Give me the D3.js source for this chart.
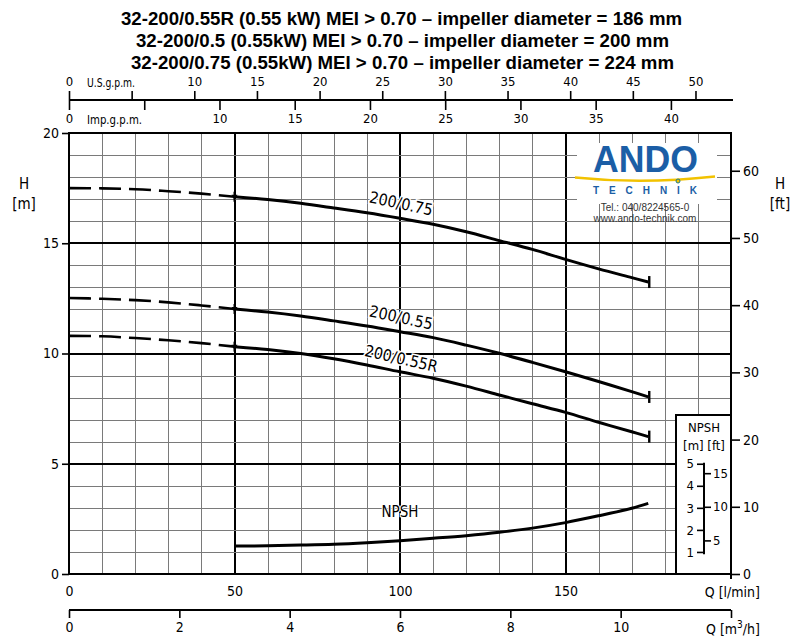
<!DOCTYPE html>
<html>
<head>
<meta charset="utf-8">
<script src="https://cdn.jsdelivr.net/npm/d3@7"></script>
<style>
  html, body { margin: 0; padding: 0; background: #fff; }
  svg { display: block; }
  .lbl { font-family: "DejaVu Sans Condensed", "Liberation Sans Narrow", "DejaVu Sans", sans-serif; font-size: 14px; fill: #000; }
</style>
</head>
<body>
<svg id="chart" width="800" height="640"></svg>
<script>
// ---------------- DATA ----------------
const titles = [
  "32-200/0.55R (0.55 kW) MEI > 0.70 \u2013 impeller diameter = 186 mm",
  "32-200/0.5 (0.55kW) MEI > 0.70 \u2013 impeller diameter = 200 mm",
  "32-200/0.75 (0.55kW) MEI > 0.70 \u2013 impeller diameter = 224 mm"
];
const curveNames = ["200/0.75", "200/0.55", "200/0.55R"];

// flow (l/min) for dashed (extrapolated) and solid parts
const qDash  = [0, 10, 20, 30, 40, 50];
const qSolid = [50, 60, 70, 80, 90, 100, 110, 120, 130, 140, 150, 160, 170, 175];

// head H [m]
const h075Dash  = [17.50, 17.49, 17.45, 17.36, 17.25, 17.11];
const h075Solid = [17.11, 16.98, 16.81, 16.60, 16.38, 16.13, 15.86, 15.52, 15.12, 14.72, 14.27, 13.84, 13.44, 13.24];
const h055Dash  = [12.52, 12.48, 12.42, 12.32, 12.18, 12.02];
const h055Solid = [12.02, 11.88, 11.70, 11.48, 11.25, 10.99, 10.72, 10.38, 10.01, 9.60, 9.17, 8.73, 8.27, 8.03];
const h055RDash  = [10.80, 10.78, 10.70, 10.60, 10.47, 10.31];
const h055RSolid = [10.31, 10.18, 10.00, 9.76, 9.48, 9.17, 8.88, 8.52, 8.12, 7.72, 7.33, 6.88, 6.45, 6.23];

// NPSH [m]
const npsh = [1.27, 1.28, 1.31, 1.35, 1.42, 1.51, 1.62, 1.74, 1.89, 2.08, 2.33, 2.64, 2.98, 3.20];

// tick values
const hTicks    = [0, 5, 10, 15, 20];
const ftTicks   = [0, 10, 20, 30, 40, 50, 60];
const lminTicks = [0, 50, 100, 150];
const m3hTicks  = [0, 2, 4, 6, 8, 10, 12];
const usTicks   = [0, 5, 10, 15, 20, 25, 30, 35, 40, 45, 50];
const impTicks  = [0, 5, 10, 15, 20, 25, 30, 35, 40];
const npshMTicks  = [1, 2, 3, 4, 5];
const npshFtTicks = [5, 10, 15];

// ---------------- LAYOUT ----------------
const svg = d3.select("#chart");
const L = 69, R = 731, T = 133, B = 574;
const QMAX = 200, HMAX = 20;

const x    = d3.scaleLinear().domain([0, QMAX]).range([L, R]);
const y    = d3.scaleLinear().domain([0, HMAX]).range([B, T]);
const yFt  = d3.scaleLinear().domain([0, HMAX / 0.3048]).range([B, T]);
const xM3h = d3.scaleLinear().domain([0, QMAX * 60 / 1000]).range([L, R]);
const xUS  = d3.scaleLinear().domain([0, QMAX / 3.78541]).range([L, R]);
const xImp = d3.scaleLinear().domain([0, QMAX / 4.54609]).range([L, R]);

svg.append("rect").attr("width", 800).attr("height", 640).attr("fill", "#fff");

// ---------------- TITLES ----------------
const titleTargets = [[121, 682], [136, 669], [131, 674]];
const titleBase = [25, 47, 69];
titles.forEach((t, i) => {
  svg.append("text")
    .attr("x", (titleTargets[i][0] + titleTargets[i][1]) / 2)
    .attr("y", titleBase[i])
    .attr("text-anchor", "middle")
    .style("font-family", "'Liberation Sans Narrow','Arial Narrow','Liberation Sans',Arial,sans-serif")
    .style("font-weight", "bold")
    .style("font-size", "19px")
    .attr("textLength", titleTargets[i][1] - titleTargets[i][0])
    .attr("lengthAdjust", "spacingAndGlyphs")
    .text(t);
});

// ---------------- GRID ----------------
const g = svg.append("g").attr("shape-rendering", "crispEdges");
d3.range(10, QMAX, 10).forEach(q => {
  const major = q % 50 === 0;
  const xv = Math.round(x(q)) + (major ? 0 : 0.5);
  g.append("line").attr("x1", xv).attr("x2", xv).attr("y1", T).attr("y2", B)
    .attr("stroke", major ? "#000" : "#7a7a7a").attr("stroke-width", major ? 2 : 1);
});
d3.range(1, HMAX, 1).forEach(h => {
  const major = h % 5 === 0;
  const yv = Math.round(y(h)) + (major ? 0 : 0.5);
  g.append("line").attr("x1", L).attr("x2", R).attr("y1", yv).attr("y2", yv)
    .attr("stroke", major ? "#000" : "#7a7a7a").attr("stroke-width", major ? 2 : 1);
});

// ---------------- LOGO ----------------
const logo = svg.append("g");
logo.append("rect").attr("x", 577).attr("y", 143).attr("width", 140).attr("height", 61).attr("fill", "#fff");
logo.append("text").attr("x", 645.5).attr("y", 172).attr("text-anchor", "middle")
  .style("font-family", "'Liberation Sans',Arial,sans-serif").style("font-weight", "bold")
  .style("font-size", "37px").attr("fill", "#1b5ea6")
  .attr("textLength", 105).attr("lengthAdjust", "spacingAndGlyphs").text("ANDO");
logo.append("path").attr("d", "M575,177.5 Q643,184.5 715,176.5")
  .attr("fill", "none").attr("stroke", "#f2c200").attr("stroke-width", 2.4);
logo.append("text").attr("x", 645).attr("y", 193.5).attr("text-anchor", "middle")
  .style("font-family", "'Liberation Sans',Arial,sans-serif").style("font-weight", "bold")
  .style("font-size", "10px").attr("fill", "#1b5ea6")
  .attr("textLength", 104).attr("lengthAdjust", "spacing").text("TECHNIK");
logo.append("circle").attr("cx", 678).attr("cy", 181).attr("r", 2)
  .attr("fill", "#f2c200").attr("stroke", "#1b7a8a").attr("stroke-width", 1);
logo.append("text").attr("x", 645).attr("y", 211).attr("text-anchor", "middle")
  .style("font-family", "'Liberation Sans',Arial,sans-serif").style("font-size", "10px")
  .attr("fill", "#333").text("Tel.: 040/8224565-0");
logo.append("text").attr("x", 645).attr("y", 222).attr("text-anchor", "middle")
  .style("font-family", "'Liberation Sans',Arial,sans-serif").style("font-size", "10px")
  .attr("fill", "#333").text("www.ando-technik.com");

// ---------------- CURVES ----------------
const line = d3.line().x(d => x(d[0])).y(d => y(d[1])).curve(d3.curveCatmullRom.alpha(0.5));
const zipQ = (qs, hs) => qs.map((q, i) => [q, hs[i]]);

const pumps = [
  { name: curveNames[0], dash: h075Dash,  solid: h075Solid },
  { name: curveNames[1], dash: h055Dash,  solid: h055Solid },
  { name: curveNames[2], dash: h055RDash, solid: h055RSolid }
];
const cg = svg.append("g");
pumps.forEach(p => {
  cg.append("path").attr("d", line(zipQ(qDash, p.dash)))
    .attr("fill", "none").attr("stroke", "#000").attr("stroke-width", 2.6)
    .attr("stroke-dasharray", "22,8");
  cg.append("path").attr("d", line(zipQ(qSolid, p.solid)))
    .attr("fill", "none").attr("stroke", "#000").attr("stroke-width", 3);
  const q0 = qSolid[0], h0 = p.solid[0];
  cg.append("line").attr("x1", x(q0)).attr("x2", x(q0)).attr("y1", y(h0) - 5).attr("y2", y(h0) + 5)
    .attr("stroke", "#000").attr("stroke-width", 2);
  cg.append("path").attr("d", `M${x(q0) - 3},${y(h0) - 2} L${x(q0) + 3},${y(h0) - 2} L${x(q0)},${y(h0) + 3} Z`).attr("fill", "#000");
  const q1 = qSolid[qSolid.length - 1], h1 = p.solid[p.solid.length - 1];
  cg.append("line").attr("x1", x(q1) + 1).attr("x2", x(q1) + 1).attr("y1", y(h1) - 6).attr("y2", y(h1) + 6)
    .attr("stroke", "#000").attr("stroke-width", 2.4);
});
cg.append("path").attr("d", line(zipQ(qSolid, npsh)))
  .attr("fill", "none").attr("stroke", "#000").attr("stroke-width", 3);

// curve labels
const labelFont = "'DejaVu Sans Condensed','Liberation Sans Narrow','DejaVu Sans',sans-serif";
const labelPos = [[400, 209, 12], [400, 323, 12], [400, 364, 13]];
curveNames.forEach((n, i) => {
  svg.append("text").attr("transform", `translate(${labelPos[i][0]},${labelPos[i][1]}) rotate(${labelPos[i][2]})`)
    .attr("text-anchor", "middle").style("font-family", labelFont).style("font-size", "16px")
    .attr("fill", "#000").attr("stroke", "#fff").attr("stroke-width", 3).attr("paint-order", "stroke")
    .text(n);
});
svg.append("text").attr("x", 400).attr("y", 517).attr("text-anchor", "middle")
  .style("font-family", labelFont).style("font-size", "15px")
  .attr("fill", "#000").attr("stroke", "#fff").attr("stroke-width", 2).attr("paint-order", "stroke")
  .text("NPSH");

// ---------------- FRAME ----------------
svg.append("rect").attr("x", L).attr("y", T).attr("width", R - L).attr("height", B - T)
  .attr("fill", "none").attr("stroke", "#000").attr("stroke-width", 2).attr("shape-rendering", "crispEdges");

// ---------------- AXES ----------------
function styleAxis(sel, size) {
  sel.selectAll(".domain").remove();
  sel.selectAll(".tick line").attr("stroke", "#000").attr("stroke-width", 1.6);
  sel.selectAll("text").attr("class", "lbl").attr("fill", "#000").style("font-size", (size || 14) + "px");
}
const axL = svg.append("g").attr("transform", `translate(${L},0)`)
  .call(d3.axisLeft(y).tickValues(hTicks).tickSize(7).tickPadding(3).tickFormat(d3.format("d")));
styleAxis(axL);
const axR = svg.append("g").attr("transform", `translate(${R},0)`)
  .call(d3.axisRight(yFt).tickValues(ftTicks).tickSize(9).tickPadding(3).tickFormat(d3.format("d")));
styleAxis(axR);
svg.append("line").attr("x1", R).attr("x2", R).attr("y1", B).attr("y2", B + 5).attr("stroke", "#000").attr("stroke-width", 2);

[[24, "H", 189], [24, "[m]", 209], [780, "H", 189], [780, "[ft]", 209]].forEach(a => {
  svg.append("text").attr("x", a[0]).attr("y", a[2]).attr("text-anchor", "middle")
    .attr("class", "lbl").style("font-size", "15px").text(a[1]);
});

const axB = svg.append("g").attr("transform", `translate(0,${B})`)
  .call(d3.axisBottom(x).tickValues(lminTicks).tickSize(0).tickPadding(12).tickFormat(d3.format("d")));
styleAxis(axB);
svg.append("text").attr("x", 760).attr("y", 597).attr("text-anchor", "end").attr("class", "lbl").text("Q [l/min]");

const yM = 610;
svg.append("line").attr("x1", L).attr("x2", R).attr("y1", yM).attr("y2", yM).attr("stroke", "#000").attr("stroke-width", 1.8);
const axM = svg.append("g").attr("transform", `translate(0,${yM})`)
  .call(d3.axisBottom(xM3h).tickValues(m3hTicks).tickSize(8).tickPadding(4)
    .tickFormat(d => d === 12 ? "" : d3.format("d")(d)));
styleAxis(axM);
const qm = svg.append("text").attr("x", 760).attr("y", 634).attr("text-anchor", "end").attr("class", "lbl");
qm.append("tspan").text("Q [m");
qm.append("tspan").attr("dy", -6).style("font-size", "10px").text("3");
qm.append("tspan").attr("dy", 6).text("/h]");

const yTop = 100;
svg.append("line").attr("x1", L).attr("x2", 733).attr("y1", yTop).attr("y2", yTop).attr("stroke", "#000").attr("stroke-width", 1.8);
const axUS = svg.append("g").attr("transform", `translate(0,${yTop})`)
  .call(d3.axisTop(xUS).tickValues(usTicks).tickSize(9).tickPadding(5)
    .tickFormat(d => d === 5 ? "" : d3.format("d")(d)));
styleAxis(axUS, 13);
const axImp = svg.append("g").attr("transform", `translate(0,${yTop})`)
  .call(d3.axisBottom(xImp).tickValues(impTicks).tickSize(10).tickPadding(4)
    .tickFormat(d => d === 5 ? "" : d3.format("d")(d)));
styleAxis(axImp, 13);
svg.append("text").attr("x", 87).attr("y", 87).attr("class", "lbl").style("font-size", "12px")
  .attr("textLength", 48).attr("lengthAdjust", "spacingAndGlyphs").text("U.S.g.p.m.");
svg.append("text").attr("x", 87).attr("y", 124).attr("class", "lbl").style("font-size", "12px")
  .attr("textLength", 55).attr("lengthAdjust", "spacingAndGlyphs").text("Imp.g.p.m.");

// ---------------- NPSH BOX ----------------
const bx = 676, by = 415;
svg.append("rect").attr("x", bx).attr("y", by).attr("width", R - bx).attr("height", B - by)
  .attr("fill", "#fff").attr("stroke", "#000").attr("stroke-width", 2);
svg.append("text").attr("x", 704).attr("y", 432).attr("text-anchor", "middle").attr("class", "lbl").style("font-size", "13px").text("NPSH");
svg.append("text").attr("x", 704).attr("y", 450).attr("text-anchor", "middle").attr("class", "lbl").style("font-size", "13px").text("[m]  [ft]");
const ax0 = 704;
svg.append("line").attr("x1", ax0).attr("x2", ax0).attr("y1", y(5) - 1).attr("y2", y(0.9)).attr("stroke", "#000").attr("stroke-width", 2);
const axNm = svg.append("g").attr("transform", `translate(${ax0},0)`)
  .call(d3.axisLeft(y).tickValues(npshMTicks).tickSize(7).tickPadding(3).tickFormat(d3.format("d")));
styleAxis(axNm, 13);
const axNf = svg.append("g").attr("transform", `translate(${ax0},0)`)
  .call(d3.axisRight(yFt).tickValues(npshFtTicks).tickSize(7).tickPadding(2).tickFormat(d3.format("d")));
styleAxis(axNf, 13);
</script>
</body>
</html>
